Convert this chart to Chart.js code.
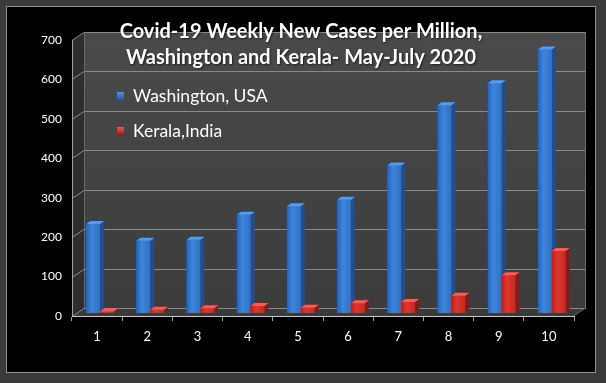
<!DOCTYPE html>
<html>
<head>
<meta charset="utf-8">
<script src="https://cdn.jsdelivr.net/npm/chart.js@4.4.1/dist/chart.umd.min.js"></script>
<style>
html,body{margin:0;padding:0;background:#3a3a3a;}
#wrap{width:606px;height:383px;position:relative;}
</style>
</head>
<body>
<div id="wrap"><canvas id="c" width="606" height="383"></canvas></div>
<script>
const weeks = ['1','2','3','4','5','6','7','8','9','10'];
const washington = [226, 183, 186, 249, 271, 287, 374, 527, 583, 668];
const kerala = [4, 8, 12, 18, 13, 25, 28, 44, 96, 157];
const seriesNames = ['Washington, USA', 'Kerala,India'];
const titleLines = ['Covid-19 Weekly New Cases per Million,', 'Washington and Kerala- May-July 2020'];
const yMax = 700, yStep = 100;

const DX = 12, DY = -8;      // depth of the 3D box
const BDX = 3, BDY = -3;     // bar placement inside the depth
const SDX = 4, SDY = -3;     // bar side depth
const tones = [['#5a9be8', '#2f72c8', '#1d4e96', '#2a62b8', '#3c86dc', '#2f70c4'],
               ['#f0605a', '#d42a26', '#8e1614', '#b8221f', '#e0352f', '#c6281f']];

const boxPlugin = {
  id: 'box3d',
  beforeDraw(chart) {
    const ctx = chart.ctx, W = chart.width, H = chart.height;
    ctx.save();
    ctx.fillStyle = '#3a3a3a'; ctx.fillRect(0, 0, W, H);
    ctx.fillStyle = '#000'; ctx.fillRect(6, 6, 590, 367);
    ctx.strokeStyle = '#8f8f8f'; ctx.lineWidth = 1;
    ctx.strokeRect(6.5, 6.5, 589, 366);
    const a = chart.chartArea, L = a.left, R = a.right, T = a.top, B = a.bottom;
    const gw = ctx.createLinearGradient(0, T + DY, 0, B + DY);
    gw.addColorStop(0, '#4a4a4a'); gw.addColorStop(1, '#3c3c3c');
    ctx.fillStyle = gw;
    ctx.fillRect(L + DX, T + DY, R - L, B - T);
    ctx.fillStyle = '#2e2e2e';
    ctx.beginPath(); ctx.moveTo(L, T); ctx.lineTo(L + DX, T + DY); ctx.lineTo(L + DX, B + DY); ctx.lineTo(L, B); ctx.closePath(); ctx.fill();
    ctx.fillStyle = '#3a3a3a';
    ctx.beginPath(); ctx.moveTo(L, B); ctx.lineTo(L + DX, B + DY); ctx.lineTo(R + DX, B + DY); ctx.lineTo(R, B); ctx.closePath(); ctx.fill();
    const ys = chart.scales.y;
    ctx.strokeStyle = '#8a8a8a'; ctx.lineWidth = 1;
    ys.ticks.forEach(t => {
      const py = Math.round(ys.getPixelForValue(t.value)) + 0.5;
      ctx.beginPath();
      ctx.moveTo(L, py); ctx.lineTo(L + DX, py + DY); ctx.lineTo(R + DX, py + DY);
      ctx.stroke();
    });
    ctx.strokeStyle = '#6a6a6a';
    ctx.beginPath();
    ctx.moveTo(L + DX + 0.5, T + DY); ctx.lineTo(L + DX + 0.5, B + DY);
    ctx.moveTo(R + DX - 0.5, T + DY); ctx.lineTo(R + DX - 0.5, B + DY); ctx.lineTo(R - 0.5, B);
    ctx.stroke();
    ctx.strokeStyle = '#a0a0a0';
    ctx.beginPath(); ctx.moveTo(L + 0.5, T); ctx.lineTo(L + 0.5, B); ctx.stroke();
    ctx.restore();
  },
  beforeDatasetsDraw(chart) {
    chart.ctx.save();
    chart.ctx.translate(BDX, BDY);
  },
  afterDatasetsDraw(chart) {
    const ctx = chart.ctx;
    chart.data.datasets.forEach((ds, di) => {
      const meta = chart.getDatasetMeta(di);
      const c = tones[di];
      meta.data.forEach(el => {
        const p = el.getProps(['x', 'y', 'base', 'width'], true);
        const x0 = p.x - p.width / 2, x1 = p.x + p.width / 2;
        if (![x0, x1, p.y, p.base].every(Number.isFinite)) return;
        const g = ctx.createLinearGradient(x0, 0, x1, 0);
        g.addColorStop(0, c[3]); g.addColorStop(0.4, c[4]); g.addColorStop(1, c[5]);
        ctx.fillStyle = g;
        ctx.fillRect(x0, p.y, x1 - x0, p.base - p.y);
        ctx.fillStyle = c[2];
        ctx.beginPath(); ctx.moveTo(x1, p.y); ctx.lineTo(x1 + SDX, p.y + SDY); ctx.lineTo(x1 + SDX, p.base + SDY); ctx.lineTo(x1, p.base); ctx.closePath(); ctx.fill();
        ctx.fillStyle = c[0];
        ctx.beginPath(); ctx.moveTo(x0, p.y); ctx.lineTo(x0 + SDX, p.y + SDY); ctx.lineTo(x1 + SDX, p.y + SDY); ctx.lineTo(x1, p.y); ctx.closePath(); ctx.fill();
      });
    });
    ctx.restore();
    ctx.save();
    ctx.fillStyle = '#ffffff';
    ctx.textAlign = 'center'; ctx.textBaseline = 'middle';
    ctx.font = 'bold 20px Lato';
    ctx.shadowColor = 'rgba(0,0,0,0.6)'; ctx.shadowOffsetX = 1; ctx.shadowOffsetY = 1; ctx.shadowBlur = 2;
    ctx.fillText(titleLines[0], 301, 32);
    ctx.fillText(titleLines[1], 301, 58);
    ctx.shadowColor = 'transparent';
    [[96, 0], [131, 1]].forEach(([cy, di]) => {
      const c = tones[di];
      const g = ctx.createLinearGradient(0, cy - 5, 0, cy + 5);
      g.addColorStop(0, c[0]); g.addColorStop(1, c[2]);
      ctx.fillStyle = g;
      ctx.fillRect(117, cy - 4, 7, 9);
      ctx.fillStyle = '#ffffff';
      ctx.textAlign = 'left';
      ctx.font = '17.5px Lato';
      ctx.fillText(seriesNames[di], 133, cy);
    });
    ctx.restore();
  }
};

new Chart(document.getElementById('c'), {
  type: 'bar',
  data: {
    labels: weeks,
    datasets: [
      { label: seriesNames[0], data: washington, backgroundColor: '#2f72c8' },
      { label: seriesNames[1], data: kerala, backgroundColor: '#d42a26' }
    ]
  },
  options: {
    responsive: false,
    animation: false,
    devicePixelRatio: 1,
    layout: { padding: { left: 10, right: 32, top: 40, bottom: 20 } },
    plugins: { legend: { display: false }, title: { display: false }, tooltip: { enabled: false } },
    datasets: { bar: { categoryPercentage: 0.55, barPercentage: 1.0, borderWidth: 0 } },
    scales: {
      x: {
        grid: { display: true, drawOnChartArea: false, drawTicks: true, tickLength: 5, color: '#a0a0a0', offset: true },
        border: { display: true, color: '#c8c8c8' },
        ticks: { color: '#ffffff', font: { family: 'Lato', size: 13 }, padding: 8 },
        afterFit: s => { s.height = 47; }
      },
      y: {
        min: 0, max: yMax,
        grid: { display: false, drawTicks: false },
        border: { display: false },
        ticks: { stepSize: yStep, color: '#ffffff', font: { family: 'Lato', size: 12 }, padding: 10 },
        afterFit: s => { s.width = 62; }
      }
    }
  },
  plugins: [boxPlugin]
});
</script>
</body>
</html>
